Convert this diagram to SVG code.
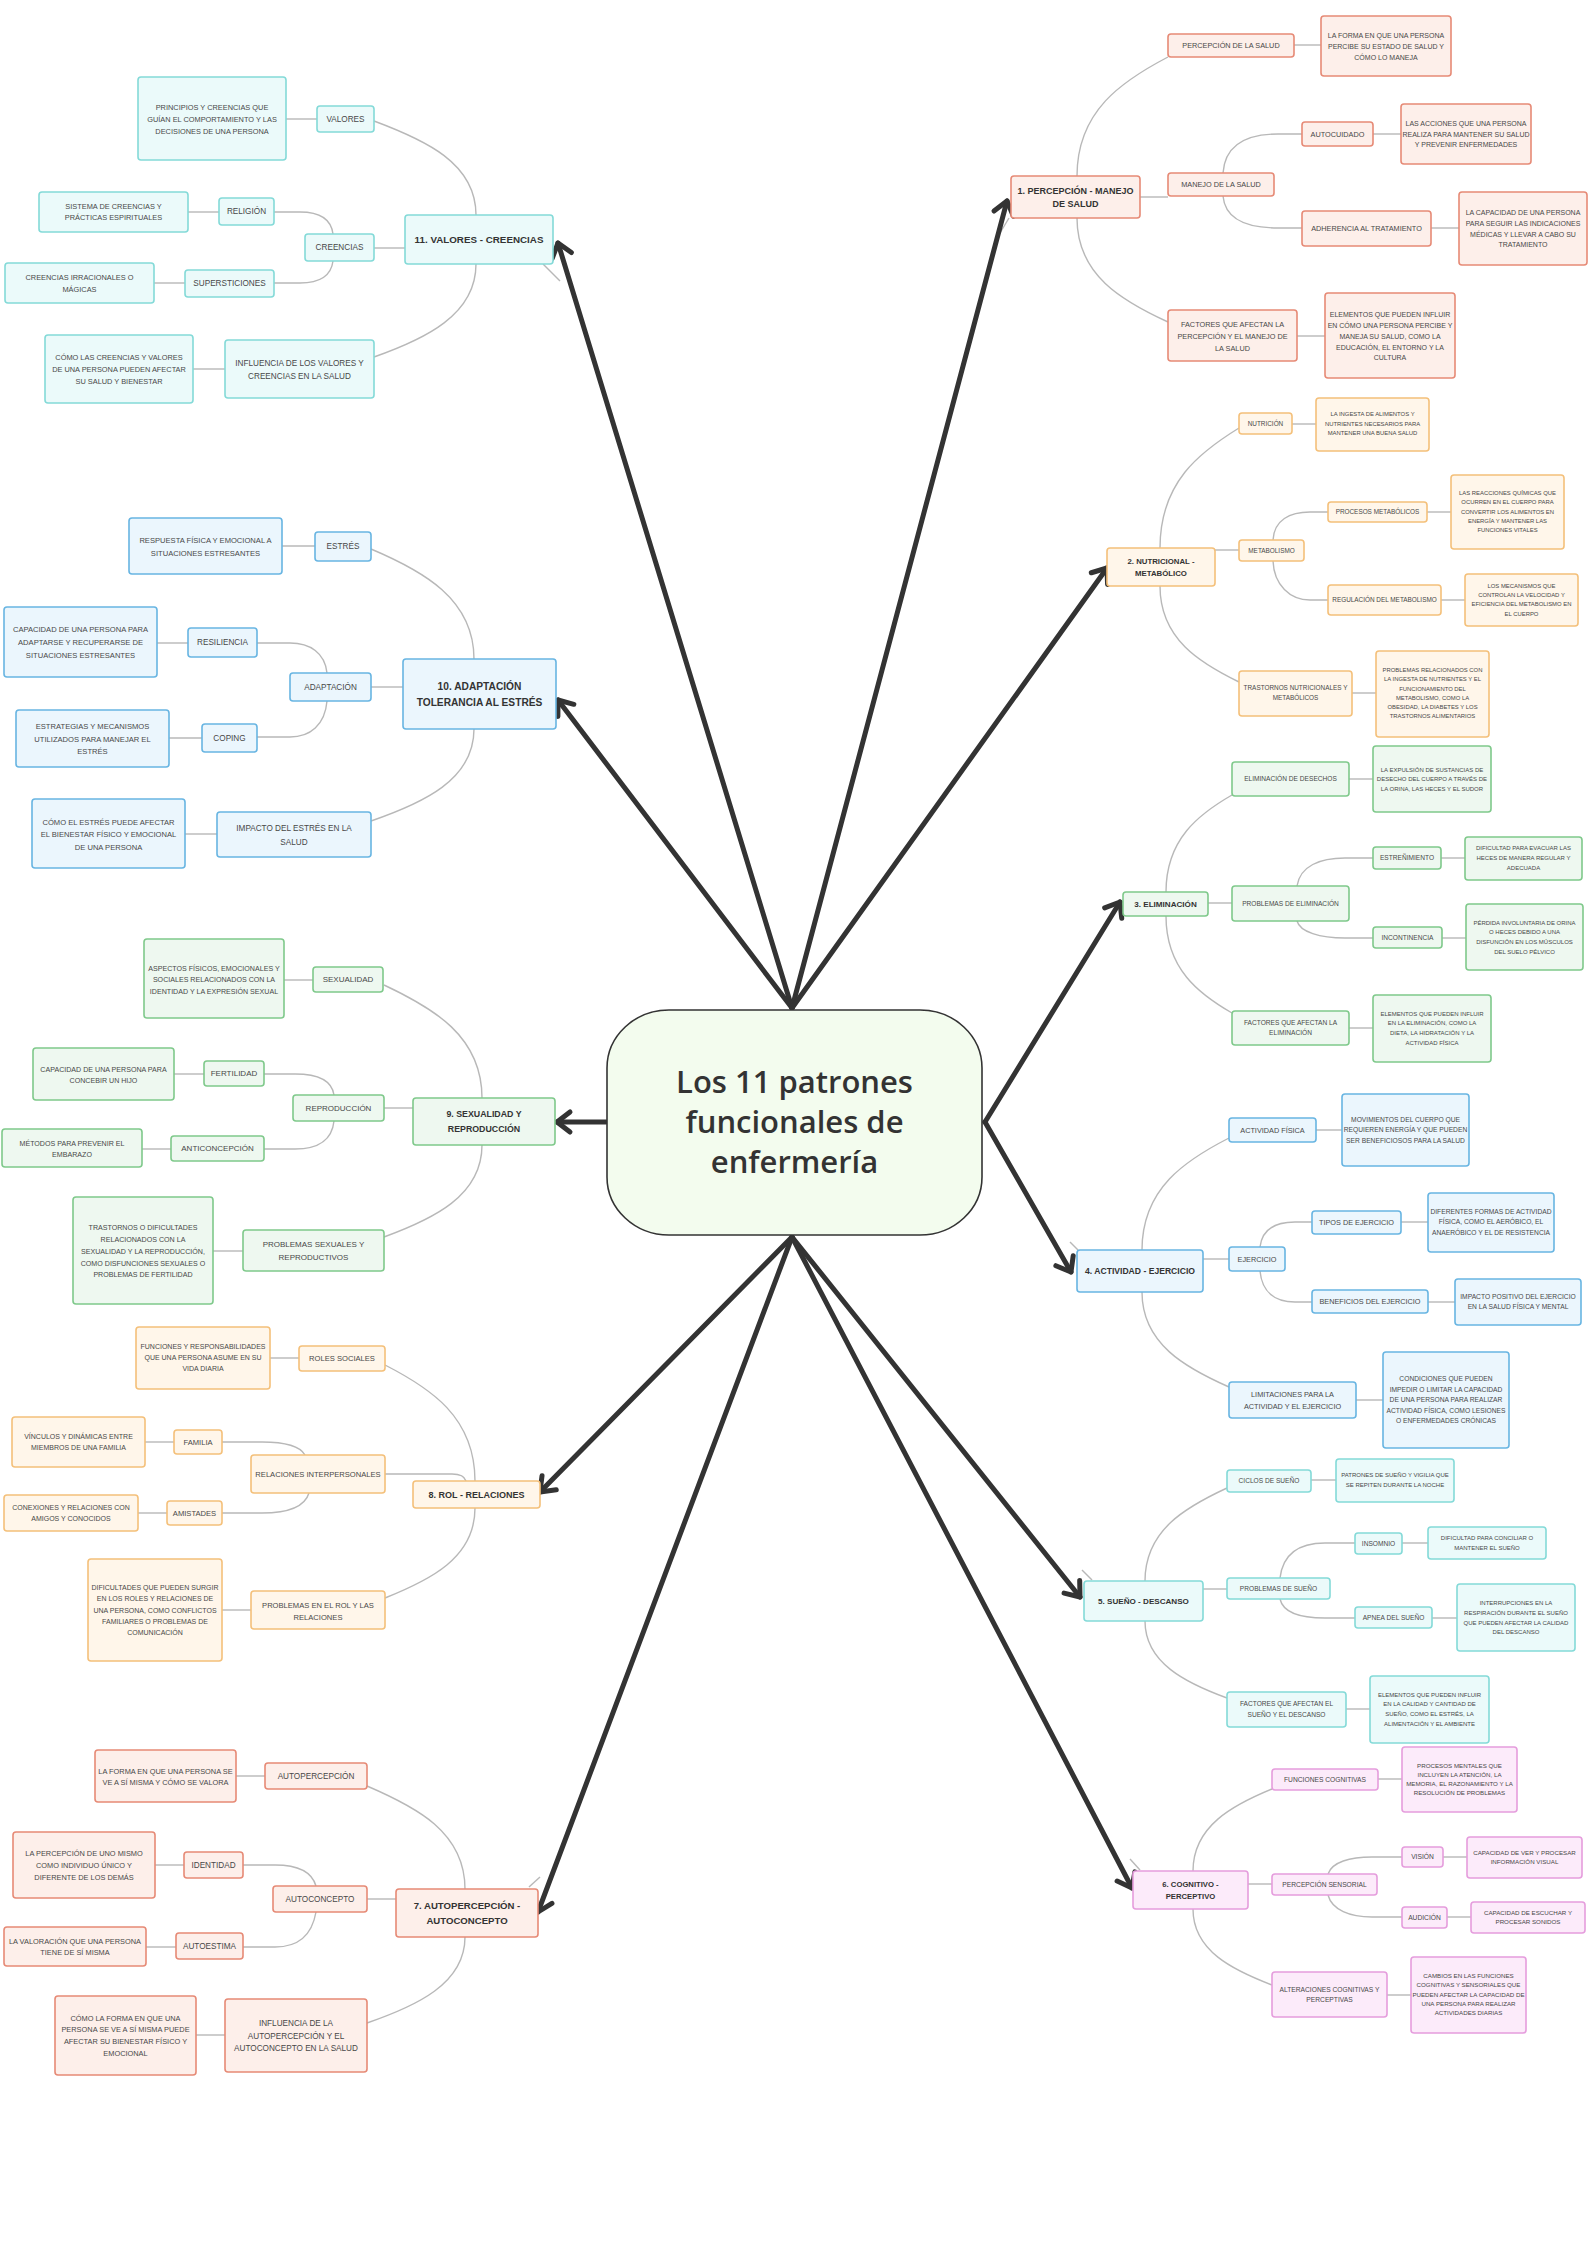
<svg xmlns="http://www.w3.org/2000/svg" width="1588" height="2246" viewBox="0 0 1588 2246">
<defs>
<style>
text{font-family:"Liberation Sans",Arial,sans-serif;fill:#484848;text-anchor:middle}
.m text{font-weight:bold;fill:#333}
rect{stroke-width:1.6}
.red rect{fill:#fdefea;stroke:#e68a76}
.org rect{fill:#fff6ea;stroke:#f4c07a}
.grn rect{fill:#eef8f0;stroke:#7fc98b}
.blu rect{fill:#ebf6fd;stroke:#68b5e2}
.cyn rect{fill:#ebfafa;stroke:#84dad8}
.pnk rect{fill:#fcebfa;stroke:#e59ddd}
.b1 text{font-size:7px}.b1 .l text{font-size:7.3px}
.b2 text{font-size:5.9px}.b2 .l text{font-size:6.4px}
.b3 text{font-size:6px}.b3 .l text{font-size:6.6px}
.b4 text{font-size:6.7px}.b4 .l text{font-size:7.3px}
.b5 text{font-size:6px}.b5 .l text{font-size:6.6px}
.b6 text{font-size:6.2px}.b6 .l text{font-size:6.7px}
.b7 text{font-size:7.4px}.b7 .l text{font-size:8.2px}
.b8 text{font-size:7px}.b8 .l text{font-size:7.6px}
.b9 text{font-size:7.1px}.b9 .l text{font-size:8px}
.b10 text{font-size:7.6px}.b10 .l text{font-size:8.2px}
.b11 text{font-size:7.4px}.b11 .l text{font-size:8.2px}
#connectors path{fill:none;stroke:#b8b8b8;stroke-width:1.4}
#arrows line{stroke:#333;stroke-width:5;stroke-linecap:round}
#center text{font-family:"Open Sans","Noto Sans",sans-serif;font-weight:600;font-size:31px;fill:#333}
</style>
<marker id="ah" markerUnits="userSpaceOnUse" viewBox="-20 -15 25 30" markerWidth="25" markerHeight="30" refX="0" refY="0" orient="auto">
<path d="M-13,-10 L0,0 L-13,10" fill="none" stroke="#333" stroke-width="5" stroke-linecap="round" stroke-linejoin="round"/>
</marker>
</defs>
<rect x="0" y="0" width="1588" height="2246" fill="#ffffff" stroke="none"/>

<g id="connectors">
<path d="M1077,176 C1077,111 1122,81 1168,57"/>
<path d="M1077,218 C1077,275 1122,301 1168,322"/>
<path d="M1140,197 L1168,197"/>
<path d="M1223,173 C1225,145 1245,134 1278,134 L1302,134"/>
<path d="M1223,196 C1225,218 1245,228 1278,228 L1302,228"/>
<path d="M1294,45 L1321,45"/><path d="M1373,134 L1401,134"/><path d="M1431,228 L1459,228"/><path d="M1297,336 L1325,336"/>
<path d="M1009,218 L1000,233"/>
<path d="M1160,548 C1160,482 1200,452 1239,428"/>
<path d="M1160,586 C1160,639 1200,663 1239,682"/>
<path d="M1215,550 L1239,550"/>
<path d="M1273,540 C1274,520 1290,512 1310,512 L1328,512"/>
<path d="M1273,561 C1274,585 1290,600 1310,600 L1328,600"/>
<path d="M1292,424 L1316,424"/><path d="M1427,512 L1451,512"/><path d="M1441,600 L1465,600"/><path d="M1352,693 L1376,693"/>
<path d="M1166,892 C1166,839 1199,814 1232,795"/>
<path d="M1166,916 C1166,969 1199,994 1232,1013"/>
<path d="M1208,903 L1232,903"/>
<path d="M1297,886 C1300,866 1320,858 1345,858 L1373,858"/>
<path d="M1297,921 C1300,932 1320,938 1345,938 L1373,938"/>
<path d="M1349,779 L1373,779"/><path d="M1441,858 L1465,858"/><path d="M1442,938 L1466,938"/><path d="M1349,1028 L1373,1028"/>
<path d="M1142,1250 C1142,1188 1186,1160 1229,1138"/>
<path d="M1142,1292 C1142,1344 1186,1368 1229,1387"/>
<path d="M1203,1259 L1229,1259"/>
<path d="M1260,1247 C1262,1230 1275,1222 1295,1222 L1312,1222"/>
<path d="M1260,1271 C1262,1292 1275,1302 1295,1302 L1312,1302"/>
<path d="M1316,1130 L1342,1130"/><path d="M1401,1222 L1428,1222"/><path d="M1428,1302 L1455,1302"/><path d="M1356,1400 L1383,1400"/>
<path d="M1070,1242 L1078,1250"/>
<path d="M1145,1581 C1145,1530 1186,1507 1227,1488"/>
<path d="M1145,1621 C1145,1663 1186,1683 1227,1698"/>
<path d="M1203,1589 L1227,1589"/>
<path d="M1280,1578 C1283,1553 1300,1543 1325,1543 L1355,1543"/>
<path d="M1280,1599 C1283,1612 1300,1618 1325,1618 L1355,1618"/>
<path d="M1311,1480 L1336,1480"/><path d="M1402,1543 L1428,1543"/><path d="M1432,1618 L1457,1618"/><path d="M1346,1709 L1370,1709"/>
<path d="M1082,1570 L1092,1580"/>
<path d="M1193,1871 C1193,1826 1233,1805 1272,1789"/>
<path d="M1193,1909 C1193,1951 1233,1970 1272,1985"/>
<path d="M1248,1884 L1272,1884"/>
<path d="M1328,1874 C1332,1862 1350,1857 1372,1857 L1402,1857"/>
<path d="M1328,1895 C1332,1910 1350,1917 1372,1917 L1402,1917"/>
<path d="M1378,1779 L1402,1779"/><path d="M1443,1857 L1467,1857"/><path d="M1447,1917 L1471,1917"/><path d="M1387,1995 L1411,1995"/>
<path d="M1130,1859 L1140,1870"/>
<path d="M476,215 C476,163 425,140 374,121"/>
<path d="M476,264 C476,315 425,339 374,357"/>
<path d="M374,248 L405,248"/>
<path d="M333,234 C331,218 318,212 300,212 L274,212"/>
<path d="M333,261 C331,277 318,283 300,283 L274,283"/>
<path d="M317,119 L286,119"/><path d="M219,212 L188,212"/><path d="M185,283 L154,283"/><path d="M225,369 L193,369"/>
<path d="M543,264 L560,281"/>
<path d="M474,659 C474,599 423,571 371,549"/>
<path d="M474,729 C474,780 423,803 371,821"/>
<path d="M371,687 L403,687"/>
<path d="M327,673 C325,653 310,643 290,643 L257,643"/>
<path d="M327,701 C325,725 310,737 290,737 L257,737"/>
<path d="M315,546 L282,546"/><path d="M188,643 L157,643"/><path d="M202,738 L169,738"/><path d="M217,834 L185,834"/>
<path d="M482,1098 C482,1036 433,1008 384,985"/>
<path d="M482,1145 C482,1196 433,1219 384,1237"/>
<path d="M384,1108 L413,1108"/>
<path d="M334,1095 C332,1081 318,1074 295,1074 L264,1074"/>
<path d="M334,1121 C332,1140 318,1149 295,1149 L264,1149"/>
<path d="M313,980 L284,980"/><path d="M204,1074 L174,1074"/><path d="M171,1149 L142,1149"/><path d="M243,1251 L213,1251"/>
<path d="M475,1481 C475,1417 430,1388 385,1365"/>
<path d="M475,1508 C475,1558 430,1580 385,1598"/>
<path d="M385,1474 L452,1474 Q464,1474 466,1481"/>
<path d="M305,1455 C300,1446 285,1442 262,1442 L222,1442"/>
<path d="M309,1493 C305,1506 290,1513 262,1513 L222,1513"/>
<path d="M299,1358 L270,1358"/><path d="M174,1442 L145,1442"/><path d="M167,1513 L138,1513"/><path d="M251,1610 L222,1610"/>
<path d="M465,1889 C465,1832 416,1807 367,1786"/>
<path d="M465,1937 C465,1984 416,2006 367,2023"/>
<path d="M367,1899 L396,1899"/>
<path d="M316,1886 C312,1872 298,1865 275,1865 L243,1865"/>
<path d="M316,1912 C312,1935 298,1947 275,1947 L243,1947"/>
<path d="M265,1776 L236,1776"/><path d="M184,1865 L155,1865"/><path d="M176,1947 L146,1947"/><path d="M225,2035 L196,2035"/>
<path d="M529,1887 L540,1877"/>
</g>

<g id="arrows">
<line x1="792" y1="1008" x2="558" y2="243" marker-end="url(#ah)"/>
<line x1="792" y1="1008" x2="558" y2="700" marker-end="url(#ah)"/>
<line x1="792" y1="1008" x2="1007" y2="201" marker-end="url(#ah)"/>
<line x1="792" y1="1008" x2="1107" y2="568" marker-end="url(#ah)"/>
<line x1="985" y1="1122" x2="1120" y2="902" marker-end="url(#ah)"/>
<line x1="985" y1="1122" x2="1071" y2="1272" marker-end="url(#ah)"/>
<line x1="606" y1="1122" x2="557" y2="1122" marker-end="url(#ah)"/>
<line x1="792" y1="1237" x2="540" y2="1492" marker-end="url(#ah)"/>
<line x1="792" y1="1237" x2="538" y2="1912" marker-end="url(#ah)"/>
<line x1="792" y1="1237" x2="1080" y2="1597" marker-end="url(#ah)"/>
<line x1="792" y1="1237" x2="1132" y2="1888" marker-end="url(#ah)"/>
</g>

<g id="center">
<rect x="607" y="1010" width="375" height="225" rx="62" ry="58" fill="#f3fcee" stroke="#333" stroke-width="5"/>
<text x="794.5"><tspan x="794.5" y="1093">Los 11 patrones</tspan><tspan x="794.5" y="1133">funcionales de</tspan><tspan x="794.5" y="1173">enfermería</tspan></text>
</g>

<g class="red b1">
<g id="n1" class="m"><rect x="1011" y="176" width="129" height="42" rx="3"/><text style="font-size:9px"><tspan x="1075.5" y="193.5">1. PERCEPCIÓN - MANEJO</tspan><tspan x="1075.5" y="206.5">DE SALUD</tspan></text></g>
<g id="n1a" class="l"><rect x="1168" y="34" width="126" height="23" rx="3"/><text x="1231" y="48">PERCEPCIÓN DE LA SALUD</text></g>
<g id="n1a_d"><rect x="1321" y="16" width="130" height="60" rx="3"/><text><tspan x="1386" y="37.5">LA FORMA EN QUE UNA PERSONA</tspan><tspan x="1386" y="48.5">PERCIBE SU ESTADO DE SALUD Y</tspan><tspan x="1386" y="59.5">CÓMO LO MANEJA</tspan></text></g>
<g id="n1b" class="l"><rect x="1168" y="173" width="106" height="23" rx="3"/><text x="1221" y="187">MANEJO DE LA SALUD</text></g>
<g id="n1b1" class="l"><rect x="1302" y="122" width="71" height="24" rx="3"/><text x="1337.5" y="136.5">AUTOCUIDADO</text></g>
<g id="n1b1_d"><rect x="1401" y="104" width="130" height="60" rx="3"/><text><tspan x="1466" y="125.5">LAS ACCIONES QUE UNA PERSONA</tspan><tspan x="1466" y="136.5">REALIZA PARA MANTENER SU SALUD</tspan><tspan x="1466" y="146.5">Y PREVENIR ENFERMEDADES</tspan></text></g>
<g id="n1b2" class="l"><rect x="1302" y="211" width="129" height="35" rx="3"/><text x="1366.5" y="231">ADHERENCIA AL TRATAMIENTO</text></g>
<g id="n1b2_d"><rect x="1459" y="192" width="128" height="73" rx="3"/><text><tspan x="1523" y="214.5">LA CAPACIDAD DE UNA PERSONA</tspan><tspan x="1523" y="225.5">PARA SEGUIR LAS INDICACIONES</tspan><tspan x="1523" y="236.5">MÉDICAS Y LLEVAR A CABO SU</tspan><tspan x="1523" y="246.5">TRATAMIENTO</tspan></text></g>
<g id="n1c" class="l"><rect x="1168" y="310" width="129" height="51" rx="3"/><text><tspan x="1232.5" y="326.5">FACTORES QUE AFECTAN LA</tspan><tspan x="1232.5" y="338.5">PERCEPCIÓN Y EL MANEJO DE</tspan><tspan x="1232.5" y="350.5">LA SALUD</tspan></text></g>
<g id="n1c_d"><rect x="1325" y="293" width="130" height="85" rx="3"/><text><tspan x="1390" y="316.5">ELEMENTOS QUE PUEDEN INFLUIR</tspan><tspan x="1390" y="327.5">EN CÓMO UNA PERSONA PERCIBE Y</tspan><tspan x="1390" y="338.5">MANEJA SU SALUD, COMO LA</tspan><tspan x="1390" y="349.5">EDUCACIÓN, EL ENTORNO Y LA</tspan><tspan x="1390" y="359.5">CULTURA</tspan></text></g>
</g>

<g class="org b2">
<g id="n2" class="m"><rect x="1107" y="548" width="108" height="38" rx="3"/><text style="font-size:7.8px"><tspan x="1161" y="563.8">2. NUTRICIONAL -</tspan><tspan x="1161" y="575.8">METABÓLICO</tspan></text></g>
<g id="n2a" class="l"><rect x="1239" y="413" width="53" height="21" rx="3"/><text x="1265.5" y="425.7">NUTRICIÓN</text></g>
<g id="n2a_d"><rect x="1316" y="398" width="113" height="53" rx="3"/><text><tspan x="1372.5" y="416">LA INGESTA DE ALIMENTOS Y</tspan><tspan x="1372.5" y="426">NUTRIENTES NECESARIOS PARA</tspan><tspan x="1372.5" y="435">MANTENER UNA BUENA SALUD</tspan></text></g>
<g id="n2b" class="l"><rect x="1239" y="540" width="65" height="21" rx="3"/><text x="1271.5" y="552.7">METABOLISMO</text></g>
<g id="n2b1" class="l"><rect x="1328" y="502" width="99" height="20" rx="3"/><text x="1377.5" y="514.2">PROCESOS METABÓLICOS</text></g>
<g id="n2b1_d"><rect x="1451" y="475" width="113" height="74" rx="3"/><text><tspan x="1507.5" y="495">LAS REACCIONES QUÍMICAS QUE</tspan><tspan x="1507.5" y="504">OCURREN EN EL CUERPO PARA</tspan><tspan x="1507.5" y="514">CONVERTIR LOS ALIMENTOS EN</tspan><tspan x="1507.5" y="523">ENERGÍA Y MANTENER LAS</tspan><tspan x="1507.5" y="532">FUNCIONES VITALES</tspan></text></g>
<g id="n2b2" class="l"><rect x="1328" y="585" width="113" height="30" rx="3"/><text x="1384.5" y="602.2">REGULACIÓN DEL METABOLISMO</text></g>
<g id="n2b2_d"><rect x="1465" y="574" width="113" height="52" rx="3"/><text><tspan x="1521.5" y="588">LOS MECANISMOS QUE</tspan><tspan x="1521.5" y="597">CONTROLAN LA VELOCIDAD Y</tspan><tspan x="1521.5" y="606">EFICIENCIA DEL METABOLISMO EN</tspan><tspan x="1521.5" y="616">EL CUERPO</tspan></text></g>
<g id="n2c" class="l"><rect x="1239" y="671" width="113" height="45" rx="3"/><text><tspan x="1295.5" y="690.2">TRASTORNOS NUTRICIONALES Y</tspan><tspan x="1295.5" y="700.2">METABÓLICOS</tspan></text></g>
<g id="n2c_d"><rect x="1376" y="651" width="113" height="86" rx="3"/><text><tspan x="1432.5" y="672">PROBLEMAS RELACIONADOS CON</tspan><tspan x="1432.5" y="681">LA INGESTA DE NUTRIENTES Y EL</tspan><tspan x="1432.5" y="691">FUNCIONAMIENTO DEL</tspan><tspan x="1432.5" y="700">METABOLISMO, COMO LA</tspan><tspan x="1432.5" y="709">OBESIDAD, LA DIABETES Y LOS</tspan><tspan x="1432.5" y="718">TRASTORNOS ALIMENTARIOS</tspan></text></g>
</g>

<g class="grn b3">
<g id="n3" class="m"><rect x="1123" y="892" width="85" height="24" rx="3"/><text x="1165.5" y="906.9" style="font-size:8.1px">3. ELIMINACIÓN</text></g>
<g id="n3a" class="l"><rect x="1232" y="762" width="117" height="34" rx="3"/><text x="1290.5" y="781.3">ELIMINACIÓN DE DESECHOS</text></g>
<g id="n3a_d"><rect x="1373" y="746" width="118" height="66" rx="3"/><text><tspan x="1432" y="772">LA EXPULSIÓN DE SUSTANCIAS DE</tspan><tspan x="1432" y="781">DESECHO DEL CUERPO A TRAVÉS DE</tspan><tspan x="1432" y="791">LA ORINA, LAS HECES Y EL SUDOR</tspan></text></g>
<g id="n3b" class="l"><rect x="1232" y="886" width="117" height="35" rx="3"/><text x="1290.5" y="905.8">PROBLEMAS DE ELIMINACIÓN</text></g>
<g id="n3b1" class="l"><rect x="1373" y="847" width="68" height="22" rx="3"/><text x="1407" y="860.3">ESTREÑIMIENTO</text></g>
<g id="n3b1_d"><rect x="1465" y="837" width="117" height="43" rx="3"/><text><tspan x="1523.5" y="850">DIFICULTAD PARA EVACUAR LAS</tspan><tspan x="1523.5" y="860">HECES DE MANERA REGULAR Y</tspan><tspan x="1523.5" y="870">ADECUADA</tspan></text></g>
<g id="n3b2" class="l"><rect x="1373" y="927" width="69" height="21" rx="3"/><text x="1407.5" y="939.8">INCONTINENCIA</text></g>
<g id="n3b2_d"><rect x="1466" y="904" width="117" height="66" rx="3"/><text><tspan x="1524.5" y="925">PÉRDIDA INVOLUNTARIA DE ORINA</tspan><tspan x="1524.5" y="934">O HECES DEBIDO A UNA</tspan><tspan x="1524.5" y="944">DISFUNCIÓN EN LOS MÚSCULOS</tspan><tspan x="1524.5" y="954">DEL SUELO PÉLVICO</tspan></text></g>
<g id="n3c" class="l"><rect x="1232" y="1011" width="117" height="34" rx="3"/><text><tspan x="1290.5" y="1025.3">FACTORES QUE AFECTAN LA</tspan><tspan x="1290.5" y="1035.3">ELIMINACIÓN</tspan></text></g>
<g id="n3c_d"><rect x="1373" y="995" width="118" height="67" rx="3"/><text><tspan x="1432" y="1016">ELEMENTOS QUE PUEDEN INFLUIR</tspan><tspan x="1432" y="1025">EN LA ELIMINACIÓN, COMO LA</tspan><tspan x="1432" y="1035">DIETA, LA HIDRATACIÓN Y LA</tspan><tspan x="1432" y="1045">ACTIVIDAD FÍSICA</tspan></text></g>
</g>

<g class="blu b4">
<g id="n4" class="m"><rect x="1077" y="1250" width="126" height="42" rx="3"/><text x="1140" y="1274" style="font-size:8.6px">4. ACTIVIDAD - EJERCICIO</text></g>
<g id="n4a" class="l"><rect x="1229" y="1118" width="87" height="24" rx="3"/><text x="1272.5" y="1132.6">ACTIVIDAD FÍSICA</text></g>
<g id="n4a_d"><rect x="1342" y="1094" width="127" height="72" rx="3"/><text><tspan x="1405.5" y="1122.3">MOVIMIENTOS DEL CUERPO QUE</tspan><tspan x="1405.5" y="1132.3">REQUIEREN ENERGÍA Y QUE PUEDEN</tspan><tspan x="1405.5" y="1143.3">SER BENEFICIOSOS PARA LA SALUD</tspan></text></g>
<g id="n4b" class="l"><rect x="1229" y="1247" width="56" height="24" rx="3"/><text x="1257" y="1261.6">EJERCICIO</text></g>
<g id="n4b1" class="l"><rect x="1312" y="1211" width="89" height="23" rx="3"/><text x="1356.5" y="1225.1">TIPOS DE EJERCICIO</text></g>
<g id="n4b1_d"><rect x="1428" y="1193" width="126" height="59" rx="3"/><text><tspan x="1491" y="1214.3">DIFERENTES FORMAS DE ACTIVIDAD</tspan><tspan x="1491" y="1224.3">FÍSICA, COMO EL AERÓBICO, EL</tspan><tspan x="1491" y="1235.3">ANAERÓBICO Y EL DE RESISTENCIA</tspan></text></g>
<g id="n4b2" class="l"><rect x="1312" y="1290" width="116" height="23" rx="3"/><text x="1370" y="1304.1">BENEFICIOS DEL EJERCICIO</text></g>
<g id="n4b2_d"><rect x="1455" y="1279" width="126" height="46" rx="3"/><text><tspan x="1518" y="1299.3">IMPACTO POSITIVO DEL EJERCICIO</tspan><tspan x="1518" y="1309.3">EN LA SALUD FÍSICA Y MENTAL</tspan></text></g>
<g id="n4c" class="l"><rect x="1229" y="1382" width="127" height="36" rx="3"/><text><tspan x="1292.5" y="1396.6">LIMITACIONES PARA LA</tspan><tspan x="1292.5" y="1408.6">ACTIVIDAD Y EL EJERCICIO</tspan></text></g>
<g id="n4c_d"><rect x="1383" y="1352" width="126" height="96" rx="3"/><text><tspan x="1446" y="1381.3">CONDICIONES QUE PUEDEN</tspan><tspan x="1446" y="1392.3">IMPEDIR O LIMITAR LA CAPACIDAD</tspan><tspan x="1446" y="1402.3">DE UNA PERSONA PARA REALIZAR</tspan><tspan x="1446" y="1413.3">ACTIVIDAD FÍSICA, COMO LESIONES</tspan><tspan x="1446" y="1423.3">O ENFERMEDADES CRÓNICAS</tspan></text></g>
</g>

<g class="cyn b5">
<g id="n5" class="m"><rect x="1084" y="1581" width="119" height="40" rx="3"/><text x="1143.5" y="1603.8" style="font-size:8.1px">5. SUEÑO - DESCANSO</text></g>
<g id="n5a" class="l"><rect x="1227" y="1470" width="84" height="22" rx="3"/><text x="1269" y="1483.3">CICLOS DE SUEÑO</text></g>
<g id="n5a_d"><rect x="1336" y="1459" width="118" height="43" rx="3"/><text><tspan x="1395" y="1477">PATRONES DE SUEÑO Y VIGILIA QUE</tspan><tspan x="1395" y="1487">SE REPITEN DURANTE LA NOCHE</tspan></text></g>
<g id="n5b" class="l"><rect x="1227" y="1578" width="103" height="21" rx="3"/><text x="1278.5" y="1590.8">PROBLEMAS DE SUEÑO</text></g>
<g id="n5b1" class="l"><rect x="1355" y="1533" width="47" height="21" rx="3"/><text x="1378.5" y="1545.8">INSOMNIO</text></g>
<g id="n5b1_d"><rect x="1428" y="1527" width="118" height="32" rx="3"/><text><tspan x="1487" y="1540">DIFICULTAD PARA CONCILIAR O</tspan><tspan x="1487" y="1550">MANTENER EL SUEÑO</tspan></text></g>
<g id="n5b2" class="l"><rect x="1355" y="1607" width="77" height="21" rx="3"/><text x="1393.5" y="1619.8">APNEA DEL SUEÑO</text></g>
<g id="n5b2_d"><rect x="1457" y="1584" width="118" height="67" rx="3"/><text><tspan x="1516" y="1605">INTERRUPCIONES EN LA</tspan><tspan x="1516" y="1615">RESPIRACIÓN DURANTE EL SUEÑO</tspan><tspan x="1516" y="1625">QUE PUEDEN AFECTAR LA CALIDAD</tspan><tspan x="1516" y="1634">DEL DESCANSO</tspan></text></g>
<g id="n5c" class="l"><rect x="1227" y="1692" width="119" height="35" rx="3"/><text><tspan x="1286.5" y="1706.3">FACTORES QUE AFECTAN EL</tspan><tspan x="1286.5" y="1717.3">SUEÑO Y EL DESCANSO</tspan></text></g>
<g id="n5c_d"><rect x="1370" y="1676" width="119" height="67" rx="3"/><text><tspan x="1429.5" y="1697">ELEMENTOS QUE PUEDEN INFLUIR</tspan><tspan x="1429.5" y="1706">EN LA CALIDAD Y CANTIDAD DE</tspan><tspan x="1429.5" y="1716">SUEÑO, COMO EL ESTRÉS, LA</tspan><tspan x="1429.5" y="1726">ALIMENTACIÓN Y EL AMBIENTE</tspan></text></g>
</g>

<g class="pnk b6">
<g id="n6" class="m"><rect x="1133" y="1871" width="115" height="38" rx="3"/><text style="font-size:7.7px"><tspan x="1190.5" y="1886.7">6. COGNITIVO -</tspan><tspan x="1190.5" y="1898.7">PERCEPTIVO</tspan></text></g>
<g id="n6a" class="l"><rect x="1272" y="1769" width="106" height="21" rx="3"/><text x="1325" y="1781.8">FUNCIONES COGNITIVAS</text></g>
<g id="n6a_d"><rect x="1402" y="1747" width="115" height="65" rx="3"/><text><tspan x="1459.5" y="1768.2">PROCESOS MENTALES QUE</tspan><tspan x="1459.5" y="1777.2">INCLUYEN LA ATENCIÓN, LA</tspan><tspan x="1459.5" y="1786.2">MEMORIA, EL RAZONAMIENTO Y LA</tspan><tspan x="1459.5" y="1795.2">RESOLUCIÓN DE PROBLEMAS</tspan></text></g>
<g id="n6b" class="l"><rect x="1272" y="1874" width="105" height="21" rx="3"/><text x="1324.5" y="1886.8">PERCEPCIÓN SENSORIAL</text></g>
<g id="n6b1" class="l"><rect x="1402" y="1847" width="41" height="20" rx="3"/><text x="1422.5" y="1859.3">VISIÓN</text></g>
<g id="n6b1_d"><rect x="1467" y="1837" width="115" height="41" rx="3"/><text><tspan x="1524.5" y="1855.2">CAPACIDAD DE VER Y PROCESAR</tspan><tspan x="1524.5" y="1864.2">INFORMACIÓN VISUAL</tspan></text></g>
<g id="n6b2" class="l"><rect x="1402" y="1907" width="45" height="21" rx="3"/><text x="1424.5" y="1919.8">AUDICIÓN</text></g>
<g id="n6b2_d"><rect x="1471" y="1902" width="114" height="31" rx="3"/><text><tspan x="1528" y="1915.2">CAPACIDAD DE ESCUCHAR Y</tspan><tspan x="1528" y="1924.2">PROCESAR SONIDOS</tspan></text></g>
<g id="n6c" class="l"><rect x="1272" y="1972" width="115" height="45" rx="3"/><text><tspan x="1329.5" y="1992.3">ALTERACIONES COGNITIVAS Y</tspan><tspan x="1329.5" y="2002.3">PERCEPTIVAS</tspan></text></g>
<g id="n6c_d"><rect x="1411" y="1957" width="115" height="76" rx="3"/><text><tspan x="1468.5" y="1978.2">CAMBIOS EN LAS FUNCIONES</tspan><tspan x="1468.5" y="1987.2">COGNITIVAS Y SENSORIALES QUE</tspan><tspan x="1468.5" y="1997.2">PUEDEN AFECTAR LA CAPACIDAD DE</tspan><tspan x="1468.5" y="2006.2">UNA PERSONA PARA REALIZAR</tspan><tspan x="1468.5" y="2015.2">ACTIVIDADES DIARIAS</tspan></text></g>
</g>

<g class="cyn b11">
<g id="n11" class="m"><rect x="405" y="215" width="148" height="49" rx="3"/><text x="479" y="243" style="font-size:9.8px">11. VALORES - CREENCIAS</text></g>
<g id="n11a" class="l"><rect x="317" y="106" width="57" height="26" rx="3"/><text x="345.5" y="121.9">VALORES</text></g>
<g id="n11a_d"><rect x="138" y="77" width="148" height="83" rx="3"/><text><tspan x="212" y="109.6">PRINCIPIOS Y CREENCIAS QUE</tspan><tspan x="212" y="121.6">GUÍAN EL COMPORTAMIENTO Y LAS</tspan><tspan x="212" y="133.6">DECISIONES DE UNA PERSONA</tspan></text></g>
<g id="n11b" class="l"><rect x="305" y="234" width="69" height="27" rx="3"/><text x="339.5" y="250.4">CREENCIAS</text></g>
<g id="n11b1" class="l"><rect x="219" y="198" width="55" height="27" rx="3"/><text x="246.5" y="214.4">RELIGIÓN</text></g>
<g id="n11b1_d"><rect x="39" y="192" width="149" height="40" rx="3"/><text><tspan x="113.5" y="208.6">SISTEMA DE CREENCIAS Y</tspan><tspan x="113.5" y="219.6">PRÁCTICAS ESPIRITUALES</tspan></text></g>
<g id="n11b2" class="l"><rect x="185" y="270" width="89" height="27" rx="3"/><text x="229.5" y="286.4">SUPERSTICIONES</text></g>
<g id="n11b2_d"><rect x="5" y="263" width="149" height="40" rx="3"/><text><tspan x="79.5" y="279.6">CREENCIAS IRRACIONALES O</tspan><tspan x="79.5" y="291.6">MÁGICAS</tspan></text></g>
<g id="n11c" class="l"><rect x="225" y="340" width="149" height="58" rx="3"/><text><tspan x="299.5" y="365.9">INFLUENCIA DE LOS VALORES Y</tspan><tspan x="299.5" y="378.9">CREENCIAS EN LA SALUD</tspan></text></g>
<g id="n11c_d"><rect x="45" y="335" width="148" height="68" rx="3"/><text><tspan x="119" y="359.6">CÓMO LAS CREENCIAS Y VALORES</tspan><tspan x="119" y="371.6">DE UNA PERSONA PUEDEN AFECTAR</tspan><tspan x="119" y="383.6">SU SALUD Y BIENESTAR</tspan></text></g>
</g>

<g class="blu b10">
<g id="n10" class="m"><rect x="403" y="659" width="153" height="70" rx="3"/><text style="font-size:10.2px"><tspan x="479.5" y="689.6">10. ADAPTACIÓN</tspan><tspan x="479.5" y="705.6">TOLERANCIA AL ESTRÉS</tspan></text></g>
<g id="n10a" class="l"><rect x="315" y="532" width="56" height="29" rx="3"/><text x="343" y="549.4">ESTRÉS</text></g>
<g id="n10a_d"><rect x="129" y="518" width="153" height="56" rx="3"/><text><tspan x="205.5" y="542.7">RESPUESTA FÍSICA Y EMOCIONAL A</tspan><tspan x="205.5" y="555.7">SITUACIONES ESTRESANTES</tspan></text></g>
<g id="n10b" class="l"><rect x="290" y="673" width="81" height="28" rx="3"/><text x="330.5" y="689.9">ADAPTACIÓN</text></g>
<g id="n10b1" class="l"><rect x="188" y="628" width="69" height="29" rx="3"/><text x="222.5" y="645.4">RESILIENCIA</text></g>
<g id="n10b1_d"><rect x="4" y="607" width="153" height="70" rx="3"/><text><tspan x="80.5" y="631.7">CAPACIDAD DE UNA PERSONA PARA</tspan><tspan x="80.5" y="644.7">ADAPTARSE Y RECUPERARSE DE</tspan><tspan x="80.5" y="657.7">SITUACIONES ESTRESANTES</tspan></text></g>
<g id="n10b2" class="l"><rect x="202" y="724" width="55" height="28" rx="3"/><text x="229.5" y="740.9">COPING</text></g>
<g id="n10b2_d"><rect x="16" y="710" width="153" height="57" rx="3"/><text><tspan x="92.5" y="728.7">ESTRATEGIAS Y MECANISMOS</tspan><tspan x="92.5" y="741.7">UTILIZADOS PARA MANEJAR EL</tspan><tspan x="92.5" y="753.7">ESTRÉS</tspan></text></g>
<g id="n10c" class="l"><rect x="217" y="812" width="154" height="45" rx="3"/><text><tspan x="294" y="830.9">IMPACTO DEL ESTRÉS EN LA</tspan><tspan x="294" y="844.9">SALUD</tspan></text></g>
<g id="n10c_d"><rect x="32" y="799" width="153" height="69" rx="3"/><text><tspan x="108.5" y="824.7">CÓMO EL ESTRÉS PUEDE AFECTAR</tspan><tspan x="108.5" y="836.7">EL BIENESTAR FÍSICO Y EMOCIONAL</tspan><tspan x="108.5" y="849.7">DE UNA PERSONA</tspan></text></g>
</g>

<g class="grn b9">
<g id="n9" class="m"><rect x="413" y="1098" width="142" height="47" rx="3"/><text style="font-size:8.8px"><tspan x="484" y="1117.1">9. SEXUALIDAD Y</tspan><tspan x="484" y="1132.1">REPRODUCCIÓN</tspan></text></g>
<g id="n9a" class="l"><rect x="313" y="967" width="70" height="25" rx="3"/><text x="348" y="982.3">SEXUALIDAD</text></g>
<g id="n9a_d"><rect x="144" y="939" width="140" height="79" rx="3"/><text><tspan x="214" y="970.5">ASPECTOS FÍSICOS, EMOCIONALES Y</tspan><tspan x="214" y="981.5">SOCIALES RELACIONADOS CON LA</tspan><tspan x="214" y="993.5">IDENTIDAD Y LA EXPRESIÓN SEXUAL</tspan></text></g>
<g id="n9b" class="l"><rect x="293" y="1095" width="91" height="26" rx="3"/><text x="338.5" y="1110.8">REPRODUCCIÓN</text></g>
<g id="n9b1" class="l"><rect x="204" y="1061" width="60" height="25" rx="3"/><text x="234" y="1076.3">FERTILIDAD</text></g>
<g id="n9b1_d"><rect x="33" y="1048" width="141" height="52" rx="3"/><text><tspan x="103.5" y="1071.5">CAPACIDAD DE UNA PERSONA PARA</tspan><tspan x="103.5" y="1082.5">CONCEBIR UN HIJO</tspan></text></g>
<g id="n9b2" class="l"><rect x="171" y="1136" width="93" height="25" rx="3"/><text x="217.5" y="1151.3">ANTICONCEPCIÓN</text></g>
<g id="n9b2_d"><rect x="2" y="1129" width="140" height="38" rx="3"/><text><tspan x="72" y="1145.5">MÉTODOS PARA PREVENIR EL</tspan><tspan x="72" y="1156.5">EMBARAZO</tspan></text></g>
<g id="n9c" class="l"><rect x="243" y="1230" width="141" height="41" rx="3"/><text><tspan x="313.5" y="1246.8">PROBLEMAS SEXUALES Y</tspan><tspan x="313.5" y="1259.8">REPRODUCTIVOS</tspan></text></g>
<g id="n9c_d"><rect x="73" y="1197" width="140" height="107" rx="3"/><text><tspan x="143" y="1229.5">TRASTORNOS O DIFICULTADES</tspan><tspan x="143" y="1241.5">RELACIONADOS CON LA</tspan><tspan x="143" y="1253.5">SEXUALIDAD Y LA REPRODUCCIÓN,</tspan><tspan x="143" y="1265.5">COMO DISFUNCIONES SEXUALES O</tspan><tspan x="143" y="1276.5">PROBLEMAS DE FERTILIDAD</tspan></text></g>
</g>

<g class="org b8">
<g id="n8" class="m"><rect x="413" y="1481" width="127" height="27" rx="3"/><text x="476.5" y="1497.7" style="font-size:9px">8. ROL - RELACIONES</text></g>
<g id="n8a" class="l"><rect x="299" y="1346" width="86" height="25" rx="3"/><text x="342" y="1361.2">ROLES SOCIALES</text></g>
<g id="n8a_d"><rect x="136" y="1327" width="134" height="62" rx="3"/><text><tspan x="203" y="1349.4">FUNCIONES Y RESPONSABILIDADES</tspan><tspan x="203" y="1360.4">QUE UNA PERSONA ASUME EN SU</tspan><tspan x="203" y="1371.4">VIDA DIARIA</tspan></text></g>
<g id="n8b" class="l"><rect x="251" y="1455" width="134" height="38" rx="3"/><text x="318" y="1476.7">RELACIONES INTERPERSONALES</text></g>
<g id="n8b1" class="l"><rect x="174" y="1430" width="48" height="24" rx="3"/><text x="198" y="1444.7">FAMILIA</text></g>
<g id="n8b1_d"><rect x="12" y="1417" width="133" height="50" rx="3"/><text><tspan x="78.5" y="1439.4">VÍNCULOS Y DINÁMICAS ENTRE</tspan><tspan x="78.5" y="1450.4">MIEMBROS DE UNA FAMILIA</tspan></text></g>
<g id="n8b2" class="l"><rect x="167" y="1501" width="55" height="24" rx="3"/><text x="194.5" y="1515.7">AMISTADES</text></g>
<g id="n8b2_d"><rect x="4" y="1495" width="134" height="36" rx="3"/><text><tspan x="71" y="1510.4">CONEXIONES Y RELACIONES CON</tspan><tspan x="71" y="1521.4">AMIGOS Y CONOCIDOS</tspan></text></g>
<g id="n8c" class="l"><rect x="251" y="1591" width="134" height="38" rx="3"/><text><tspan x="318" y="1607.7">PROBLEMAS EN EL ROL Y LAS</tspan><tspan x="318" y="1619.7">RELACIONES</tspan></text></g>
<g id="n8c_d"><rect x="88" y="1559" width="134" height="102" rx="3"/><text><tspan x="155" y="1590.4">DIFICULTADES QUE PUEDEN SURGIR</tspan><tspan x="155" y="1601.4">EN LOS ROLES Y RELACIONES DE</tspan><tspan x="155" y="1613.4">UNA PERSONA, COMO CONFLICTOS</tspan><tspan x="155" y="1624.4">FAMILIARES O PROBLEMAS DE</tspan><tspan x="155" y="1635.4">COMUNICACIÓN</tspan></text></g>
</g>

<g class="red b7">
<g id="n7" class="m"><rect x="396" y="1889" width="142" height="48" rx="3"/><text style="font-size:9.6px"><tspan x="467" y="1909.4">7. AUTOPERCEPCIÓN -</tspan><tspan x="467" y="1924.4">AUTOCONCEPTO</tspan></text></g>
<g id="n7a" class="l"><rect x="265" y="1763" width="102" height="26" rx="3"/><text x="316" y="1778.9">AUTOPERCEPCIÓN</text></g>
<g id="n7a_d"><rect x="95" y="1750" width="141" height="52" rx="3"/><text><tspan x="165.5" y="1773.6">LA FORMA EN QUE UNA PERSONA SE</tspan><tspan x="165.5" y="1784.6">VE A SÍ MISMA Y CÓMO SE VALORA</tspan></text></g>
<g id="n7b" class="l"><rect x="273" y="1886" width="94" height="26" rx="3"/><text x="320" y="1901.9">AUTOCONCEPTO</text></g>
<g id="n7b1" class="l"><rect x="184" y="1852" width="59" height="26" rx="3"/><text x="213.5" y="1867.9">IDENTIDAD</text></g>
<g id="n7b1_d"><rect x="13" y="1832" width="142" height="66" rx="3"/><text><tspan x="84" y="1855.6">LA PERCEPCIÓN DE UNO MISMO</tspan><tspan x="84" y="1867.6">COMO INDIVIDUO ÚNICO Y</tspan><tspan x="84" y="1879.6">DIFERENTE DE LOS DEMÁS</tspan></text></g>
<g id="n7b2" class="l"><rect x="176" y="1933" width="67" height="26" rx="3"/><text x="209.5" y="1948.9">AUTOESTIMA</text></g>
<g id="n7b2_d"><rect x="4" y="1927" width="142" height="39" rx="3"/><text><tspan x="75" y="1943.6">LA VALORACIÓN QUE UNA PERSONA</tspan><tspan x="75" y="1954.6">TIENE DE SÍ MISMA</tspan></text></g>
<g id="n7c" class="l"><rect x="225" y="1999" width="142" height="73" rx="3"/><text><tspan x="296" y="2025.9">INFLUENCIA DE LA</tspan><tspan x="296" y="2038.9">AUTOPERCEPCIÓN Y EL</tspan><tspan x="296" y="2050.9">AUTOCONCEPTO EN LA SALUD</tspan></text></g>
<g id="n7c_d"><rect x="55" y="1996" width="141" height="79" rx="3"/><text><tspan x="125.5" y="2020.6">CÓMO LA FORMA EN QUE UNA</tspan><tspan x="125.5" y="2031.6">PERSONA SE VE A SÍ MISMA PUEDE</tspan><tspan x="125.5" y="2043.6">AFECTAR SU BIENESTAR FÍSICO Y</tspan><tspan x="125.5" y="2055.6">EMOCIONAL</tspan></text></g>
</g>
</svg>
